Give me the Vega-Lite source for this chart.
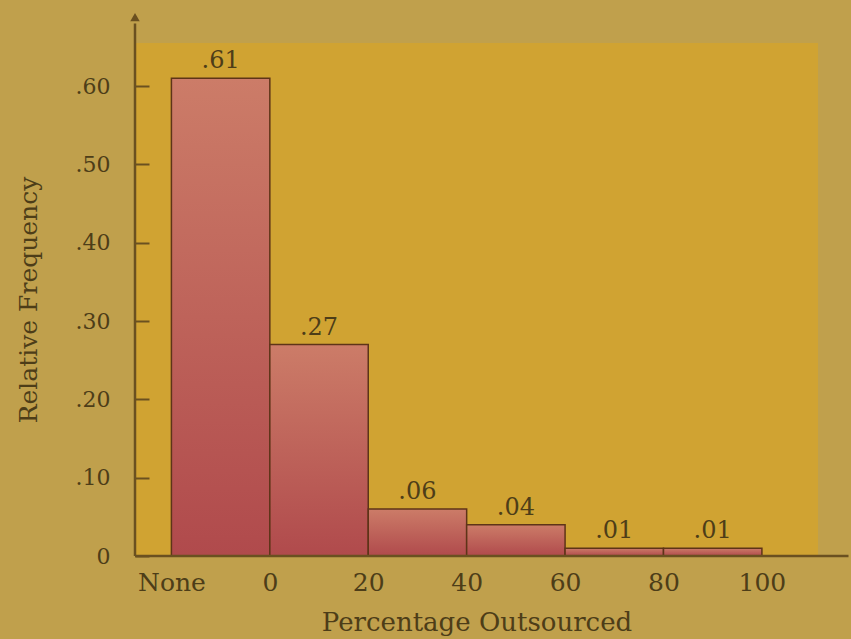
{
  "$schema": "https://vega.github.io/schema/vega-lite/v6.json",
  "width": 683,
  "height": 513,
  "autosize": {"type": "none"},
  "padding": {"left": 135, "top": 43, "right": 33, "bottom": 83},
  "background": "#c0a04c",
  "config": {
    "view": {"fill": "#d0a332", "stroke": null},
    "font": "DejaVu Serif",
    "axis": {"labelColor": "#4d3d18", "titleColor": "#4d3d18", "labelFont": "DejaVu Serif", "titleFont": "DejaVu Serif", "titleFontWeight": "normal", "grid": false}
  },
  "datasets": {
    "bins": [
      {"category": "None", "start": -20, "end": 0, "freq": 0.61, "label": ".61"},
      {"category": "0-20", "start": 0, "end": 20, "freq": 0.27, "label": ".27"},
      {"category": "20-40", "start": 20, "end": 40, "freq": 0.06, "label": ".06"},
      {"category": "40-60", "start": 40, "end": 60, "freq": 0.04, "label": ".04"},
      {"category": "60-80", "start": 60, "end": 80, "freq": 0.01, "label": ".01"},
      {"category": "80-100", "start": 80, "end": 100, "freq": 0.01, "label": ".01"}
    ]
  },
  "layer": [
    {
      "data": {"name": "bins"},
      "mark": {
        "type": "rect",
        "fill": {"gradient": "linear", "x1": 0, "y1": 0, "x2": 0, "y2": 1, "stops": [{"offset": 0, "color": "#cc7c68"}, {"offset": 1, "color": "#b04a4c"}]},
        "stroke": "#5e3418",
        "strokeWidth": 1.5
      },
      "encoding": {
        "x": {
          "field": "start", "type": "quantitative",
          "scale": {"domain": [-27.4, 111.4], "nice": false, "zero": false},
          "axis": {
            "values": [-20, 0, 20, 40, 60, 80, 100],
            "labelExpr": "datum.value == -20 ? 'None' : datum.label",
            "domain": false, "ticks": false,
            "labelFontSize": 25, "labelPadding": 14,
            "title": "Percentage Outsourced", "titleFontSize": 26, "titlePadding": 14
          }
        },
        "x2": {"field": "end"},
        "y": {
          "field": "freq", "type": "quantitative",
          "scale": {"domain": [0, 0.655], "nice": false},
          "axis": {
            "values": [0, 0.1, 0.2, 0.3, 0.4, 0.5, 0.6],
            "format": ".2f",
            "labelExpr": "datum.value == 0 ? '0' : replace(datum.label, '0.', '.')",
            "domain": false, "ticks": true, "tickSize": -14, "tickWidth": 2, "tickColor": "#6a5020",
            "labelFontSize": 22, "labelPadding": 39,
            "title": "Relative Frequency", "titleFontSize": 25, "titlePadding": 34
          }
        },
        "y2": {"datum": 0}
      }
    },
    {
      "data": {"name": "bins"},
      "mark": {"type": "text", "baseline": "bottom", "dy": -5, "fontSize": 24, "color": "#4d3d18", "font": "DejaVu Serif"},
      "encoding": {
        "x": {"field": "mid", "type": "quantitative"},
        "y": {"field": "freq", "type": "quantitative"},
        "text": {"field": "label"}
      },
      "transform": [{"calculate": "(datum.start + datum.end) / 2", "as": "mid"}]
    },
    {
      "data": {"values": [{}]},
      "mark": {"type": "rule", "color": "#6a5020", "strokeWidth": 2.5},
      "encoding": {"x": {"datum": -27.4}, "x2": {"datum": 117.6}, "y": {"datum": 0}}
    },
    {
      "data": {"values": [{}]},
      "mark": {"type": "rule", "color": "#6a5020", "strokeWidth": 2.5},
      "encoding": {"x": {"datum": -27.4}, "y": {"datum": 0}, "y2": {"datum": 0.68}}
    },
    {
      "data": {"values": [{}]},
      "mark": {"type": "point", "shape": "triangle-up", "filled": true, "size": 90, "color": "#6a5020", "opacity": 1},
      "encoding": {"x": {"datum": -27.4}, "y": {"datum": 0.688}}
    }
  ]
}
